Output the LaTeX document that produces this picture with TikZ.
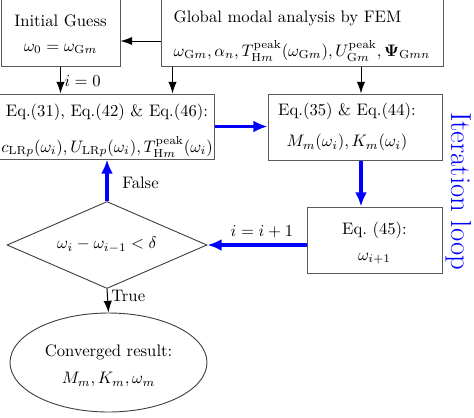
\documentclass[tikz,border=0pt]{standalone}
\usetikzlibrary{shapes.geometric,arrows.meta}
\begin{document}
\begin{tikzpicture}[x=0.6pt,y=-0.6pt,
  box/.style={draw=black!65,line width=0.6pt,rectangle,align=center,inner sep=1pt},
  blk/.style={-{Latex[length=7pt,width=5pt]},line width=0.6pt},
  blu/.style={-{Latex[length=8.5pt,width=7.2pt]},line width=2.3pt,draw=blue,fill=blue},
  lbl/.style={inner sep=1pt}]
\useasboundingbox (0,0) rectangle (474,417);
\node[box,minimum width=71.4pt,minimum height=40.8pt] (init) at (60.5,32)
  {\rule{0pt}{9.8pt}Initial Guess\\[2.5pt] $\omega_0=\omega_{\mathrm{G}m}$};
\node[box,align=left,minimum width=169.2pt,minimum height=40.8pt] (glob) at (302,32)
  {\rule{0pt}{11.7pt}Global modal analysis by FEM\\[8.6pt] $\omega_{\mathrm{G}m},\alpha_n,T_{\mathrm{H}m}^{\mathrm{peak}}(\omega_{\mathrm{G}m}),U_{\mathrm{G}m}^{\mathrm{peak}},\mathbf{\Psi}_{\mathrm{G}mn}$};
\node[box,minimum width=127.2pt,minimum height=39pt] (eq31) at (107,126.5)
  {\rule{0pt}{12.3pt}Eq.(31), Eq.(42) \& Eq.(46):\\[8.6pt] $c_{\mathrm{LR}p}(\omega_i),U_{\mathrm{LR}p}(\omega_i),T_{\mathrm{H}m}^{\mathrm{peak}}(\omega_i)$};
\node[box,minimum width=104.4pt,minimum height=39.6pt] (eq35) at (355,127)
  {Eq.(35) \& Eq.(44):\hspace*{9.6pt}\\[6.5pt] $M_m(\omega_i),K_m(\omega_i)$\hspace*{9.6pt}};
\node[box,minimum width=81pt,minimum height=39.6pt] (eq45) at (374.5,240)
  {\rule{0pt}{11.1pt}Eq.~(45):\\[3.8pt] $\omega_{i+1}$};
\node[draw=black!75,line width=0.55pt,diamond,aspect=2.3,inner sep=0pt,minimum width=120pt,minimum height=52.2pt] (dec) at (107,245)
  {$\omega_i-\omega_{i-1}<\delta$};
\node[draw=black!75,line width=0.55pt,ellipse,align=center,inner sep=0pt,minimum width=118.2pt,minimum height=59.4pt] (res) at (108.5,362.5)
  {\rule{0pt}{11.1pt}Converged result:\\[4.4pt] $M_m,K_m,\omega_m$};
\node[blue,rotate=-90,inner sep=0pt,font=\LARGE] (loop) at (459,191) {Iteration loop};
% black arrows
\draw[blk] ([yshift=-5.4pt]glob.west) -- ([yshift=-5.4pt]glob.west -| init.east);
\draw[blk] (init.south) -- (init.south |- eq31.north) node[lbl,pos=0.55,right=1pt] (l0) {$i=0$};
\draw[blk] ([xshift=7.2pt]glob.south west) -- ([xshift=7.2pt]glob.south west |- eq31.north);
\draw[blk] ([xshift=3.6pt]eq35.north |- glob.south) -- ([xshift=3.6pt]eq35.north);
\draw[blk] (dec.south) -- (res.north) node[lbl,pos=0.3,right=1pt] (lt) {True};
% blue loop
\draw[blu] (eq31.east) -- (eq31.east -| eq35.west);
\draw[blu] ([xshift=3.6pt]eq35.south) -- ([xshift=3.6pt]eq35.south |- eq45.north);
\draw[blu] (dec.east -| eq45.west) -- (dec.east) node[lbl,pos=0.45,above=2pt] (li) {$i=i+1$};
\draw[blu] (dec.north) -- (dec.north |- eq31.south) node[lbl,pos=0.45,right=7pt] (lf) {False};
\end{tikzpicture}
\end{document}
